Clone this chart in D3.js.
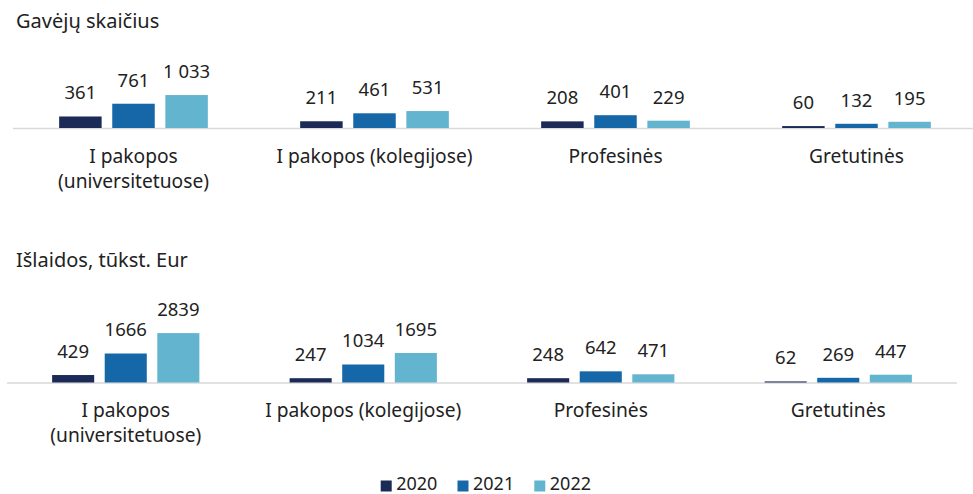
<!DOCTYPE html>
<html>
<head>
<meta charset="utf-8">
<script src="https://cdn.jsdelivr.net/npm/d3@7"></script>
<style>
  html, body { margin: 0; padding: 0; background: #fff; }
  svg { display: block; font-family: "Noto Sans", "Open Sans", sans-serif; }
</style>
</head>
<body>
<svg id="chart" width="973" height="494"></svg>
<script>
const categories = ["I pakopos\n(universitetuose)", "I pakopos (kolegijose)", "Profesinės", "Gretutinės"];
const years = ["2020", "2021", "2022"];
const recipients = [
  [361, 761, 1033],
  [211, 461, 531],
  [208, 401, 229],
  [60, 132, 195]
];
const recipientLabels = [
  ["361", "761", "1 033"],
  ["211", "461", "531"],
  ["208", "401", "229"],
  ["60", "132", "195"]
];
const expenses = [
  [429, 1666, 2839],
  [247, 1034, 1695],
  [248, 642, 471],
  [62, 269, 447]
];
const expenseLabels = [
  ["429", "1666", "2839"],
  ["247", "1034", "1695"],
  ["248", "642", "471"],
  ["62", "269", "447"]
];
const titles = ["Gavėjų skaičius", "Išlaidos, tūkst. Eur"];
const colors = ["#1b2a56", "#1667a8", "#63b4cf"];

const svg = d3.select("#chart");
const textColor = "#222";
const fs = 18.5;

function panel(cfg) {
  const g = svg.append("g");
  g.append("text")
    .attr("x", 16).attr("y", cfg.titleY).attr("dy", "0.35em")
    .attr("font-size", 20).attr("fill", textColor)
    .text(cfg.title);

  const x0 = d3.scaleBand().domain(categories).range(cfg.xRange)
    .paddingInner(cfg.pad).paddingOuter(cfg.pad / 2);
  const x1 = d3.scaleBand().domain(years).range([0, x0.bandwidth()]).paddingInner(0.2);
  const y = d3.scaleLinear().domain([0, cfg.max]).range([cfg.base, cfg.base - cfg.max * cfg.ppu]);

  g.append("line")
    .attr("x1", cfg.lineRange[0]).attr("x2", cfg.lineRange[1])
    .attr("y1", y(0) + 0.5).attr("y2", y(0) + 0.5)
    .attr("stroke", "#d9d9d9").attr("stroke-width", 1.5);

  const groups = g.selectAll("g.grp").data(categories).join("g")
    .attr("class", "grp")
    .attr("transform", d => `translate(${x0(d)},0)`);

  groups.each(function(cat, ci) {
    const gg = d3.select(this);
    const vals = cfg.data[ci].map((v, yi) => ({ v, yi, lab: cfg.labels[ci][yi] }));
    gg.selectAll("rect").data(vals).join("rect")
      .attr("x", d => x1(years[d.yi]))
      .attr("width", x1.bandwidth())
      .attr("y", d => y(d.v))
      .attr("height", d => y(0) - y(d.v))
      .attr("fill", d => colors[d.yi]);
    gg.selectAll("text.val").data(vals).join("text")
      .attr("class", "val")
      .attr("x", d => x1(years[d.yi]) + x1.bandwidth() / 2)
      .attr("y", d => y(d.v) - 23.5)
      .attr("dy", "0.35em")
      .attr("text-anchor", "middle")
      .attr("font-size", fs).attr("fill", textColor)
      .text(d => d.lab);
    const lines = cat.split("\n");
    gg.selectAll("text.cat").data(lines).join("text")
      .attr("class", "cat")
      .attr("x", x0.bandwidth() / 2)
      .attr("y", (d, i) => cfg.catY + i * 25)
      .attr("dy", "0.35em")
      .attr("text-anchor", "middle")
      .attr("font-size", 19.2).attr("fill", textColor)
      .text(d => d);
  });
}

panel({
  title: titles[0], titleY: 20.7, data: recipients, labels: recipientLabels,
  xRange: [13, 977], lineRange: [13, 973], pad: 0.383,
  base: 128, max: 1200, ppu: 0.0319, catY: 156.7
});
panel({
  title: titles[1], titleY: 260, data: expenses, labels: expenseLabels,
  xRange: [7, 957], lineRange: [7, 957], pad: 0.38,
  base: 382.5, max: 3000, ppu: 0.0174, catY: 410
});

const legend = svg.append("g");
const lx = d3.scalePoint().domain(years).range([380.7, 534.3]);
years.forEach((yr, i) => {
  legend.append("rect")
    .attr("x", lx(yr)).attr("y", 480.5).attr("width", 11).attr("height", 11)
    .attr("fill", colors[i]);
  legend.append("text")
    .attr("x", lx(yr) + 15.5).attr("y", 483.5).attr("dy", "0.35em")
    .attr("font-size", 18).attr("fill", textColor)
    .text(yr);
});
</script>
</body>
</html>
